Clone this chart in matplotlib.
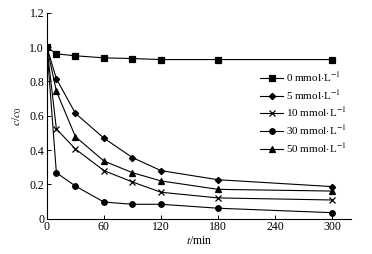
import numpy as np
import matplotlib
matplotlib.use("Agg")
from matplotlib import pyplot as plt

plt.rcParams['font.family'] = ['Liberation Serif', 'DejaVu Serif']
plt.rcParams['mathtext.fontset'] = 'stix'

t = [0, 10, 30, 60, 90, 120, 180, 300]
c0 = [1.0, 0.96, 0.949, 0.937, 0.933, 0.927, 0.927, 0.927]
c5 = [1.0, 0.815, 0.614, 0.469, 0.356, 0.28, 0.227, 0.187]
c10 = [1.0, 0.523, 0.406, 0.28, 0.214, 0.154, 0.121, 0.109]
c30 = [1.0, 0.268, 0.19, 0.097, 0.084, 0.084, 0.061, 0.035]
c50 = [1.0, 0.743, 0.478, 0.336, 0.268, 0.22, 0.171, 0.161]
labels = ['0 mmol$\\cdot$L$^{-1}$', '5 mmol$\\cdot$L$^{-1}$', '10 mmol$\\cdot$L$^{-1}$',
          '30 mmol$\\cdot$L$^{-1}$', '50 mmol$\\cdot$L$^{-1}$']
markers = ['s', 'D', 'x', 'o', '^']

fig = plt.figure(figsize=(3.72, 2.54), dpi=100)
ax = fig.add_axes([0.126, 0.139, 0.818, 0.811])

for y, m, lab in zip([c0, c5, c10, c30, c50], markers, labels):
    ms = 3.2 if m == 'D' else 4
    ax.plot(t, y, color='black', lw=0.8, marker=m, ms=ms, mew=0.9, label=lab)

ax.set_xlim(0, 320)
ax.set_ylim(0, 1.2)
ax.set_xticks([0, 60, 120, 180, 240, 300])
ax.set_yticks([0, 0.2, 0.4, 0.6, 0.8, 1.0, 1.2])
ax.set_yticklabels(['0', '0.2', '0.4', '0.6', '0.8', '1.0', '1.2'])
ax.spines['top'].set_visible(False)
ax.spines['right'].set_visible(False)
ax.tick_params(direction='in', length=3, width=0.7, labelsize=8.5, pad=2)
for s in ['left', 'bottom']:
    ax.spines[s].set_linewidth(0.8)

ax.set_xlabel('$t$/min', fontsize=8.5, labelpad=1)
ax.set_ylabel('$c$/$c_0$', fontsize=8.5, labelpad=4)

ax.legend(loc='upper left', bbox_to_anchor=(0.70, 0.725), bbox_transform=fig.transFigure,
          frameon=False, fontsize=8, borderpad=0, borderaxespad=0,
          handlelength=2.0, handletextpad=0.3, labelspacing=0.36)

fig.savefig('out.png', dpi=100)
